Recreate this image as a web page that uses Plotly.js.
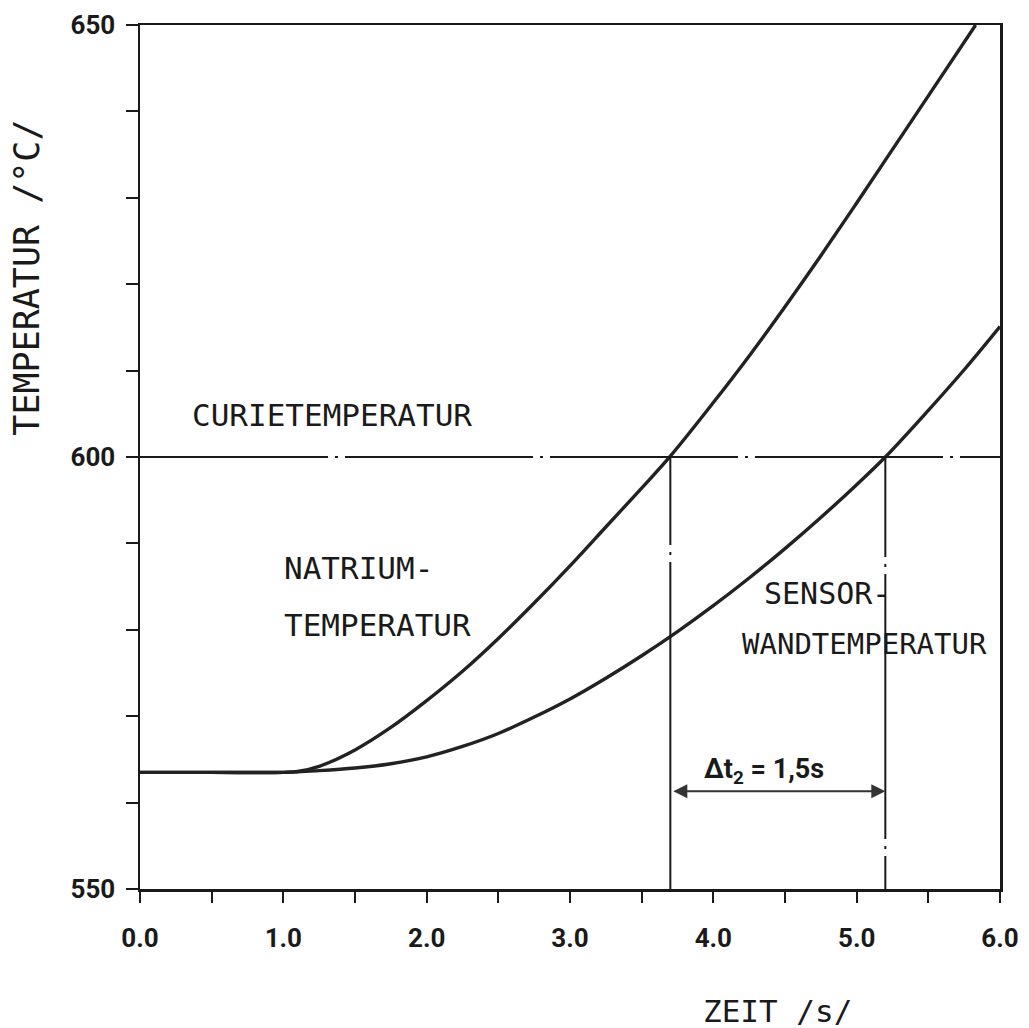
<!DOCTYPE html>
<html>
<head>
<meta charset="utf-8">
<script src="https://cdn.plot.ly/plotly-3.0.1.min.js"></script>
<style>html,body{margin:0;padding:0;background:#fff;}</style>
</head>
<body>
<div id="chart" style="width:1029px;height:1028px;"></div>
<script>
// --- data ---
const natriumTime = [0, 0.5, 1.0, 1.1, 1.25, 1.5, 1.75, 2.0, 2.25, 2.5, 2.75, 3.0, 3.25, 3.5, 3.7, 4.0, 4.25, 4.5, 4.75, 5.0, 5.25, 5.5, 5.83];
const natriumTemp = [563.5, 563.5, 563.5, 563.6, 564.2, 566.1, 568.7, 571.8, 575.2, 579.0, 583.1, 587.4, 591.9, 596.4, 600.1, 606.3, 611.7, 617.4, 623.3, 629.4, 635.6, 641.8, 650.0];
const sensorTime = [0, 0.5, 1.0, 1.25, 1.5, 1.75, 2.0, 2.25, 2.5, 2.75, 3.0, 3.25, 3.5, 3.75, 4.0, 4.25, 4.5, 4.75, 5.0, 5.2, 5.5, 5.75, 6.0];
const sensorTemp = [563.5, 563.5, 563.5, 563.7, 564.0, 564.5, 565.3, 566.5, 568.0, 569.9, 572.0, 574.4, 577.0, 579.8, 582.8, 586.0, 589.4, 593.0, 596.8, 600.0, 605.4, 610.1, 615.1];
const curieTemp = 600;
const crossTimes = [3.7, 5.2];       // natrium / sensor reach Curie temperature
const deltaArrowTemp = 561.3;
const xTickVals = [0, 0.5, 1, 1.5, 2, 2.5, 3, 3.5, 4, 4.5, 5, 5.5, 6];
const xTickText = ['0.0', '', '1.0', '', '2.0', '', '3.0', '', '4.0', '', '5.0', '', '6.0'];
const yTickVals = [550, 560, 570, 580, 590, 600, 610, 620, 630, 640, 650];
const yTickText = ['550', '', '', '', '', '600', '', '', '', '', '650'];
const xRange = [0, 6];
const yRange = [550, 650];

const ink = '#1a1a1a';
const curveStyle = {color: '#222222', width: 3.4, shape: 'spline', smoothing: 1};

const traces = [
  {x: natriumTime, y: natriumTemp, mode: 'lines', line: curveStyle, hoverinfo: 'skip'},
  {x: sensorTime, y: sensorTemp, mode: 'lines', line: curveStyle, hoverinfo: 'skip'},
  {x: xRange, y: [curieTemp, curieTemp], mode: 'lines', line: {color: ink, width: 2.2, dash: '188px,7px,3px,7px'}, hoverinfo: 'skip'},
  {x: [crossTimes[0], crossTimes[0]], y: [curieTemp, yRange[0]], mode: 'lines', line: {color: ink, width: 2, dash: '88px,7px,3px,7px,400px,0px'}, hoverinfo: 'skip'},
  {x: [crossTimes[1], crossTimes[1]], y: [curieTemp, yRange[0]], mode: 'lines', line: {color: ink, width: 2, dash: '100px,7px,3px,7px,265px,7px,3px,7px,200px,0px'}, hoverinfo: 'skip'}
];

const monoFont = {family: 'DejaVu Sans Mono, monospace', size: 31, color: ink};
const tickFont = {family: 'Roboto, Noto Sans, sans-serif', size: 26, color: ink, weight: 'bold'};

const layout = {
  width: 1029, height: 1028,
  margin: {l: 140, r: 29, t: 25, b: 139},
  paper_bgcolor: '#ffffff', plot_bgcolor: '#ffffff',
  showlegend: false,
  xaxis: {
    range: xRange, tickvals: xTickVals, ticktext: xTickText,
    ticks: 'outside', ticklen: 11, tickwidth: 2, tickcolor: ink,
    showline: true, linecolor: ink, linewidth: 2.5, mirror: true,
    showgrid: false, zeroline: false,
    tickfont: tickFont, ticklabelstandoff: 13
  },
  yaxis: {
    range: yRange, tickvals: yTickVals, ticktext: yTickText,
    ticks: 'outside', ticklen: 12, tickwidth: 2, tickcolor: ink,
    showline: true, linecolor: ink, linewidth: 2.5, mirror: true,
    showgrid: false, zeroline: false,
    tickfont: tickFont, ticklabelstandoff: 5
  },
  annotations: [
    {text: 'CURIETEMPERATUR', x: 0.349, y: 604.9, xref: 'x', yref: 'y', xanchor: 'left', yanchor: 'middle', showarrow: false, font: monoFont},
    {text: 'NATRIUM-', x: 0.99, y: 587.1, xref: 'x', yref: 'y', xanchor: 'left', yanchor: 'middle', showarrow: false, font: monoFont},
    {text: 'TEMPERATUR', x: 0.99, y: 580.6, xref: 'x', yref: 'y', xanchor: 'left', yanchor: 'middle', showarrow: false, font: monoFont},
    {text: 'SENSOR-', x: 4.34, y: 584.2, xref: 'x', yref: 'y', xanchor: 'left', yanchor: 'middle', showarrow: false, font: {family: 'DejaVu Sans Mono, monospace', size: 30, color: ink}},
    {text: 'WANDTEMPERATUR', x: 5.924, y: 578.4, xref: 'x', yref: 'y', xanchor: 'right', yanchor: 'middle', showarrow: false, font: {family: 'DejaVu Sans Mono, monospace', size: 29, color: ink}},
    {text: 'Δt<sub>2</sub> = 1,5s', x: 4.35, y: 563.7, xref: 'x', yref: 'y', xanchor: 'center', yanchor: 'middle', showarrow: false, font: {family: 'Roboto, Noto Sans, sans-serif', size: 27, color: ink, weight: 'bold'}},
    {text: ' ', x: crossTimes[1], y: deltaArrowTemp, ax: crossTimes[0], ay: deltaArrowTemp, xref: 'x', yref: 'y', axref: 'x', ayref: 'y',
     showarrow: true, arrowside: 'end+start', arrowhead: 2, arrowsize: 1.4, arrowwidth: 2, arrowcolor: '#333'},
    {text: 'TEMPERATUR /°C/', x: -0.131, y: 0.708, xref: 'paper', yref: 'paper', xanchor: 'center', yanchor: 'middle', textangle: -90, showarrow: false,
     font: {family: 'DejaVu Sans Mono, monospace', size: 35, color: ink}},
    {text: 'ZEIT /s/', x: 0.741, y: -0.141, xref: 'paper', yref: 'paper', xanchor: 'center', yanchor: 'middle', showarrow: false, font: monoFont}
  ]
};

Plotly.newPlot('chart', traces, layout, {displayModeBar: false, staticPlot: true});
</script>
</body>
</html>
